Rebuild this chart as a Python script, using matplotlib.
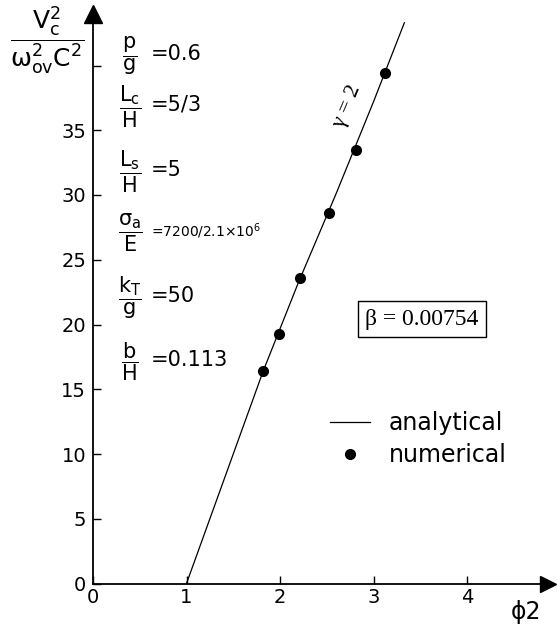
import matplotlib.pyplot as plt

# values
analytical_x = [1.0, 1.4, 1.82, 2.2, 2.6, 3.0, 3.33]
analytical_y = [0.0, 8.0, 16.4, 23.3, 30.1, 37.2, 43.3]

numerical_x = [1.82, 1.99, 2.21, 2.52, 2.81, 3.12]
numerical_y = [16.4, 19.3, 23.6, 28.6, 33.5, 39.4]

x_ticks = [0, 1, 2, 3, 4]
y_ticks = [0, 5, 10, 15, 20, 25, 30, 35, 40]
y_tick_labels = ['0', '5', '10', '15', '20', '25', '30', '35', '']

param_fracs = [r'$\dfrac{p}{g}$', r'$\dfrac{L_c}{H}$', r'$\dfrac{L_s}{H}$',
               r'$\dfrac{\sigma_a}{E}$', r'$\dfrac{k_T}{g}$', r'$\dfrac{b}{H}$']
param_values = ['=0.6', '=5/3', '=5', r'=7200/2.1$\times$10$^6$', '=50', '=0.113']

W, H = 557, 629
plt.rcParams['mathtext.default'] = 'regular'
plt.rcParams['font.family'] = 'DejaVu Sans'


def px(x, y):
    # pixel position -> figure fraction
    return x / W, 1 - y / H


fig = plt.figure(figsize=(W / 100, H / 100), dpi=100)
ax = fig.add_axes([93 / W, (H - 583.5) / H, 455 / W, (583.5 - 14) / H])
ax.set_xlim(0, 455 / 93.5)
ax.set_ylim(0, 569.5 / 12.95)

for s in ['top', 'right']:
    ax.spines[s].set_visible(False)
for s in ['left', 'bottom']:
    ax.spines[s].set_linewidth(1.3)

# arrow heads on the axes
ax.plot(1, 0, '>k', transform=ax.transAxes, clip_on=False, ms=12)
ax.plot(0, 1, '^k', transform=ax.transAxes, clip_on=False, ms=13)

ax.plot(analytical_x, analytical_y, 'k-', lw=0.9, label='analytical')
ax.plot(numerical_x, numerical_y, 'ko', ms=7, ls='none', label='numerical')

ax.set_xticks(x_ticks)
ax.set_yticks(y_ticks)
ax.set_yticklabels(y_tick_labels)
ax.tick_params(direction='in', length=6, width=1, labelsize=14)
ax.tick_params(axis='x', pad=3)
ax.tick_params(axis='y', pad=5)

# y label (fraction) at top left
fig.text(*px(47, 40), r'$\dfrac{V_c^2}{\omega_{ov}^2 C^2}$', fontsize=18,
         ha='center', va='center')
# x label
fig.text(*px(526, 612), 'ϕ2', fontsize=17, ha='center', va='center')

# parameter list
param_y = [56, 107, 172, 233, 298, 362]
for frac, val, yy in zip(param_fracs, param_values, param_y):
    fig.text(*px(130, yy), frac, fontsize=15, ha='center', va='center')
    small = 10 if 'times' in val else 15
    fig.text(*px(151, yy - 2), val, fontsize=small, ha='left', va='center')

# gamma label along the line
ax.text(2.72, 36.8, r'$\gamma$ = 2', family='Liberation Serif', fontsize=16,
        rotation=67, ha='center', va='center')

# beta box
fig.text(*px(422, 319), 'β = 0.00754', family='Liberation Serif', fontsize=17,
         ha='center', va='center',
         bbox=dict(boxstyle='square,pad=0.3', fc='white', ec='black', lw=1))

ax.legend(loc='upper left', bbox_to_anchor=px(318, 399), bbox_transform=fig.transFigure,
          frameon=False, fontsize=17, handlelength=1.7, handletextpad=0.8,
          borderpad=0, labelspacing=0.35)

fig.savefig('out.png', dpi=100)
